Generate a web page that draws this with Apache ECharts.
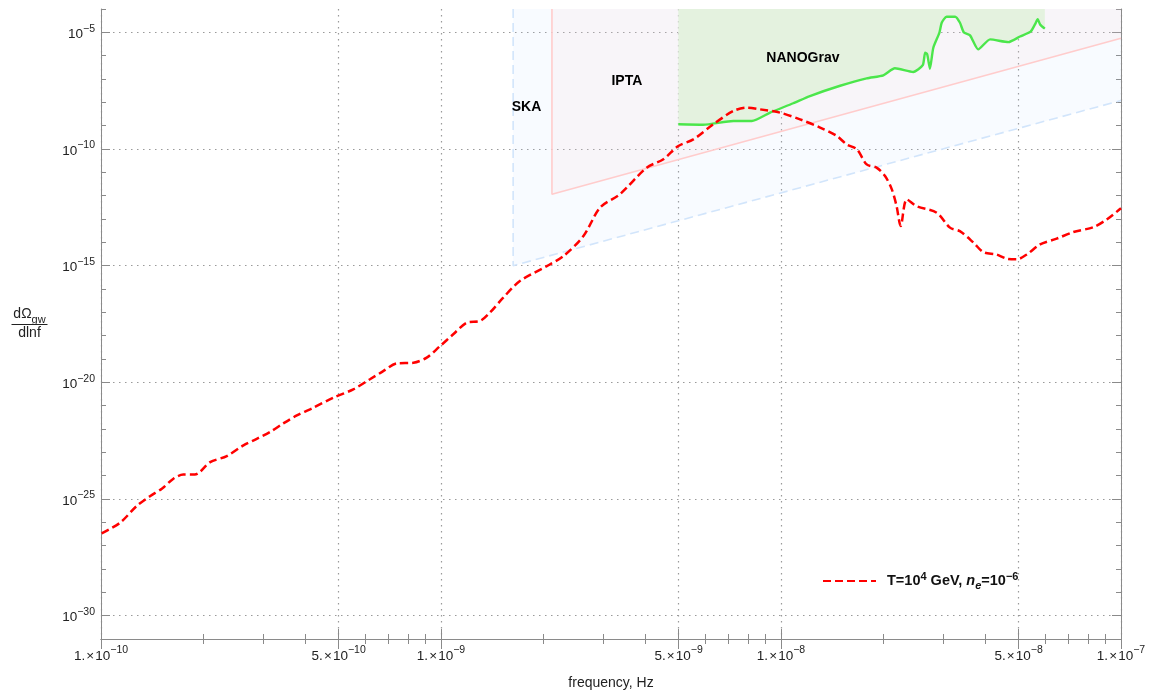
<!DOCTYPE html>
<html><head><meta charset="utf-8">
<script src="https://cdn.jsdelivr.net/npm/echarts@6/dist/echarts.min.js"></script>
<style>html,body{margin:0;padding:0;background:#fff}#c{width:1149px;height:691px}</style>
</head><body><div id="c"></div>
<script>
// ---- axis ticks ----
const xTickValues = [1e-10, 5e-10, 1e-9, 5e-9, 1e-8, 5e-8, 1e-7];
const xTickLabels = ['1.\u200a×\u200a10^−10', '5.\u200a×\u200a10^−10', '1.\u200a×\u200a10^−9', '5.\u200a×\u200a10^−9',
  '1.\u200a×\u200a10^−8', '5.\u200a×\u200a10^−8', '1.\u200a×\u200a10^−7'];
const xMinorTickValues = [2e-10, 3e-10, 4e-10, 6e-10, 7e-10, 8e-10, 9e-10,
  2e-9, 3e-9, 4e-9, 6e-9, 7e-9, 8e-9, 9e-9,
  2e-8, 3e-8, 4e-8, 6e-8, 7e-8, 8e-8, 9e-8];
const yTickValues = [1e-30, 1e-25, 1e-20, 1e-15, 1e-10, 1e-5];
const yTickLabels = ['10^−30', '10^−25', '10^−20', '10^−15', '10^−10', '10^−5'];
const yMinorTickValues = [1e-31, 1e-29, 1e-28, 1e-27, 1e-26, 1e-24, 1e-23, 1e-22, 1e-21,
  1e-19, 1e-18, 1e-17, 1e-16, 1e-14, 1e-13, 1e-12, 1e-11, 1e-9, 1e-8, 1e-7, 1e-6, 1e-4];
const xRange = [1e-10, 1e-7];
const yRange = [1e-31, 1e-4];

// ---- red curve (log10 frequency, log10 dΩ/dlnf) ----
const redLogFreq = [-9.998, -9.944, -9.895, -9.856, -9.821, -9.787, -9.758, -9.724, -9.679, -9.630,
  -9.581, -9.542, -9.503, -9.464, -9.424, -9.376, -9.317, -9.258, -9.209, -9.170,
  -9.130, -9.081, -9.042, -9.003, -8.964, -8.924, -8.885, -8.856, -8.817, -8.768,
  -8.689, -8.640, -8.581, -8.532, -8.474, -8.395, -8.346, -8.302, -8.258, -8.199,
  -8.140, -8.101, -8.062, -8.003, -7.944, -7.885, -7.836, -7.807, -7.777, -7.748,
  -7.719, -7.694, -7.674, -7.660, -7.648, -7.630, -7.601, -7.542, -7.503, -7.474,
  -7.434, -7.405, -7.366, -7.336, -7.307, -7.277, -7.238, -7.189, -7.140, -7.081,
  -7.042, -7.000];
const redLogOmega = [-26.47, -26.02, -25.30, -24.88, -24.56, -24.13, -23.95, -23.95, -23.42, -23.16,
  -22.70, -22.42, -22.13, -21.76, -21.42, -21.09, -20.66, -20.30, -19.87, -19.52,
  -19.19, -19.16, -18.94, -18.45, -17.94, -17.44, -17.37, -17.01, -16.37, -15.66,
  -15.02, -14.59, -13.73, -12.51, -11.94, -10.80, -10.44, -9.87, -9.59, -8.94,
  -8.37, -8.23, -8.30, -8.44, -8.73, -9.08, -9.44, -9.80, -10.01, -10.66,
  -10.80, -11.16, -11.73, -12.45, -13.30, -12.16, -12.45, -12.73, -13.37, -13.52,
  -14.01, -14.42, -14.52, -14.70, -14.73, -14.52, -14.09, -13.84, -13.56, -13.35,
  -13.02, -12.54];

// ---- NANOGrav sensitivity curve ----
const nanoLogFreq = [-8.302, -8.229, -8.140, -8.086, -8.032, -7.964, -7.915, -7.826, -7.748, -7.699,
  -7.665, -7.611, -7.583, -7.576, -7.570, -7.562, -7.552, -7.534, -7.527, -7.513,
  -7.488, -7.474, -7.462, -7.444, -7.420, -7.385, -7.331, -7.297, -7.266, -7.253,
  -7.245, -7.238, -7.224];
const nanoLogOmega = [-8.94, -8.96, -8.80, -8.80, -8.44, -8.04, -7.73, -7.29, -6.97, -6.84,
  -6.54, -6.70, -6.41, -5.87, -5.94, -6.56, -5.66, -5.01, -4.58, -4.33,
  -4.33, -4.58, -5.01, -5.13, -5.73, -5.30, -5.42, -5.18, -4.97, -4.66,
  -4.44, -4.66, -4.84];

// ---- SKA and IPTA region boundaries ----
const skaFreq = [1.63e-9, 1.63e-9, 1e-7];
const skaOmega = [1e-4, 1e-15, 1.2e-8];
const iptaFreq = [2.12e-9, 2.12e-9, 1e-7];
const iptaOmega = [1e-4, 1.15e-12, 5.6e-6];

// ---- region labels ----
const regionNames = ['SKA', 'IPTA', 'NANOGrav'];
const regionLabelFreq = [1.785e-9, 3.52e-9, 1.16e-8];
const regionLabelOmega = [6.9e-9, 8.7e-8, 8.3e-7];

const legendName = 'T=10^4 GeV, n_e=10^-6';

const FONT = '"Liberation Sans", Arial, Helvetica, sans-serif';
const zip = (a, b) => a.map((v, i) => [v, b[i]]);
const zipPow = (a, b) => a.map((v, i) => [Math.pow(10, v), Math.pow(10, b[i])]);
const findIdx = (vals, v) => vals.findIndex(t => Math.abs(Math.log10(t) - Math.log10(v)) < 1e-6);
const toRich = (s) => { const p = s.split('^'); return p.length > 1 ? `{b|${p[0]}}{s|${p[1]}}` : `{b|${p[0]}}`; };

const labelRich = {
  b: { fontFamily: FONT, fontSize: 13.5, color: '#222', lineHeight: 18, verticalAlign: 'bottom' },
  s: { fontFamily: FONT, fontSize: 10.5, color: '#222', lineHeight: 6, verticalAlign: 'top' }
};
const frameColor = '#8a8a8a';
const gridLine = { show: true, lineStyle: { color: '#9a9a9a', width: 1.2, type: [1.5, 4.5] } };

function xAxisDef(opts) {
  return Object.assign({
    type: 'log', logBase: 10, min: xRange[0], max: xRange[1], gridIndex: 0,
    axisLine: { show: true, lineStyle: { color: frameColor, width: 1 } },
    axisLabel: { show: false }, splitLine: { show: false }, minorTick: { show: false }
  }, opts);
}
function yAxisDef(opts) {
  return Object.assign({
    type: 'log', logBase: 10, min: yRange[0], max: yRange[1], gridIndex: 0,
    axisLine: { show: true, lineStyle: { color: frameColor, width: 1 } },
    axisLabel: { show: false }, splitLine: { show: false }, minorTick: { show: false }
  }, opts);
}

const chart = echarts.init(document.getElementById('c'), null, { renderer: 'canvas', width: 1149, height: 691 });
const option = {
  animation: false,
  backgroundColor: '#fff',
  grid: { left: 101, width: 1020, top: 9, height: 630, containLabel: false, outerBoundsMode: 'none' },
  xAxis: [
    xAxisDef({
      position: 'bottom',
      name: 'frequency, Hz', nameLocation: 'middle', nameGap: 37,
      nameTextStyle: { fontFamily: FONT, fontSize: 14, color: '#222' },
      axisTick: { show: true, inside: true, length: 10, customValues: xTickValues, lineStyle: { color: frameColor } },
      axisLabel: { show: true, margin: 6, customValues: xTickValues, rich: labelRich,
        formatter: (v) => { const i = findIdx(xTickValues, v); return i < 0 ? '' : toRich(xTickLabels[i]); } },
      splitLine: Object.assign({}, gridLine)
    }),
    xAxisDef({ position: 'bottom', axisLine: { show: false },
      axisTick: { show: true, inside: true, length: 5, customValues: xMinorTickValues, lineStyle: { color: frameColor } } }),
    xAxisDef({ position: 'top',
      axisTick: { show: true, inside: true, length: 10, customValues: xTickValues, lineStyle: { color: frameColor } } }),
    xAxisDef({ position: 'top', axisLine: { show: false },
      axisTick: { show: true, inside: true, length: 5, customValues: xMinorTickValues, lineStyle: { color: frameColor } } })
  ],
  yAxis: [
    yAxisDef({
      position: 'left',
      axisTick: { show: true, inside: true, length: 9, customValues: yTickValues, lineStyle: { color: frameColor } },
      axisLabel: { show: true, margin: 6, customValues: yTickValues, rich: labelRich,
        formatter: (v) => { const i = findIdx(yTickValues, v); return i < 0 ? '' : toRich(yTickLabels[i]); } },
      splitLine: Object.assign({}, gridLine)
    }),
    yAxisDef({ position: 'left', axisLine: { show: false },
      axisTick: { show: true, inside: true, length: 5, customValues: yMinorTickValues, lineStyle: { color: frameColor } } }),
    yAxisDef({ position: 'right',
      axisTick: { show: true, inside: true, length: 9, customValues: yTickValues, lineStyle: { color: frameColor } } }),
    yAxisDef({ position: 'right', axisLine: { show: false },
      axisTick: { show: true, inside: true, length: 5, customValues: yMinorTickValues, lineStyle: { color: frameColor } } })
  ],
  legend: {
    show: true, data: [legendName], left: 822, top: 571, orient: 'vertical', padding: 0,
    itemWidth: 53, itemHeight: 18, selectedMode: false,
    itemStyle: { color: 'rgba(0,0,0,0)', borderWidth: 0, opacity: 0 },
    textStyle: { padding: [0, 0, 0, 6], rich: {
      b: { fontFamily: FONT, fontSize: 14.5, fontWeight: 'bold', color: '#111', lineHeight: 20, verticalAlign: 'middle' },
      s: { fontFamily: FONT, fontSize: 11, fontWeight: 'bold', color: '#111', lineHeight: 8, verticalAlign: 'top' },
      i: { fontFamily: FONT, fontSize: 14.5, fontWeight: 'bold', fontStyle: 'italic', color: '#111', lineHeight: 20, verticalAlign: 'middle' },
      sub: { fontFamily: FONT, fontSize: 11, fontWeight: 'bold', fontStyle: 'italic', color: '#111', lineHeight: 13, verticalAlign: 'bottom' }
    } },
    formatter: () => '{b|T=10}{s|4}{b| GeV, }{i|n}{sub|e}{b|=10}{s|−6}'
  },
  graphic: [
    { type: 'group', left: 9, top: 307, children: [
      { type: 'text', x: 20, y: 9, style: { text: '{a|dΩ}{g|gw}', align: 'center', verticalAlign: 'middle',
        rich: { a: { fontFamily: FONT, fontSize: 14, fill: '#222', lineHeight: 18, verticalAlign: 'top' },
                g: { fontFamily: FONT, fontSize: 11, fill: '#222', lineHeight: 12, verticalAlign: 'bottom' } } } },
      { type: 'line', shape: { x1: 2, y1: 17.5, x2: 38, y2: 17.5 }, style: { stroke: '#222', lineWidth: 1 } },
      { type: 'text', x: 20, y: 26.5, style: { text: 'dlnf', align: 'center', verticalAlign: 'middle',
        fontFamily: FONT, fontSize: 14, fill: '#222' } }
    ] }
  ],
  series: [
    { name: 'SKA', type: 'line', xAxisIndex: 0, yAxisIndex: 0, data: zip(skaFreq, skaOmega),
      showSymbol: false, symbol: 'none', silent: true, z: 1,
      lineStyle: { color: '#d2e5fb', width: 1.6, type: [9, 5] },
      areaStyle: { origin: 'end', color: 'rgba(175,210,250,0.13)' } },
    { name: 'IPTA', type: 'line', xAxisIndex: 0, yAxisIndex: 0, data: zip(iptaFreq, iptaOmega),
      showSymbol: false, symbol: 'none', silent: true, z: 2,
      lineStyle: { color: '#ffcccc', width: 1.6 },
      areaStyle: { origin: 'end', color: 'rgba(255,205,200,0.17)' } },
    { name: 'NANOGrav', type: 'line', xAxisIndex: 0, yAxisIndex: 0, data: zipPow(nanoLogFreq, nanoLogOmega),
      showSymbol: false, symbol: 'none', silent: true, z: 3, smooth: 0.2,
      lineStyle: { color: '#4be64b', width: 2.4 },
      areaStyle: { origin: 'end', color: '#e4f2df', opacity: 1 } },
    { name: legendName, type: 'line', xAxisIndex: 0, yAxisIndex: 0, data: zipPow(redLogFreq, redLogOmega),
      showSymbol: false, symbol: 'none', z: 5, smooth: 0.3,
      lineStyle: { color: '#ff0000', width: 2.5, type: [8, 4] }, itemStyle: { color: '#ff0000' } },
    { name: 'labels', type: 'scatter', xAxisIndex: 0, yAxisIndex: 0, z: 6, silent: true,
      symbol: 'circle', symbolSize: 2, itemStyle: { color: 'rgba(0,0,0,0)' },
      data: regionNames.map((n, i) => ({ name: n, value: [regionLabelFreq[i], regionLabelOmega[i]] })),
      label: { show: true, position: 'top', distance: -9, formatter: (p) => p.name, opacity: 1,
        textBorderWidth: 0, fontFamily: FONT, fontSize: 14, fontWeight: 'bold', color: '#000' } }
  ]
};
chart.setOption(option);
</script>
</body></html>
